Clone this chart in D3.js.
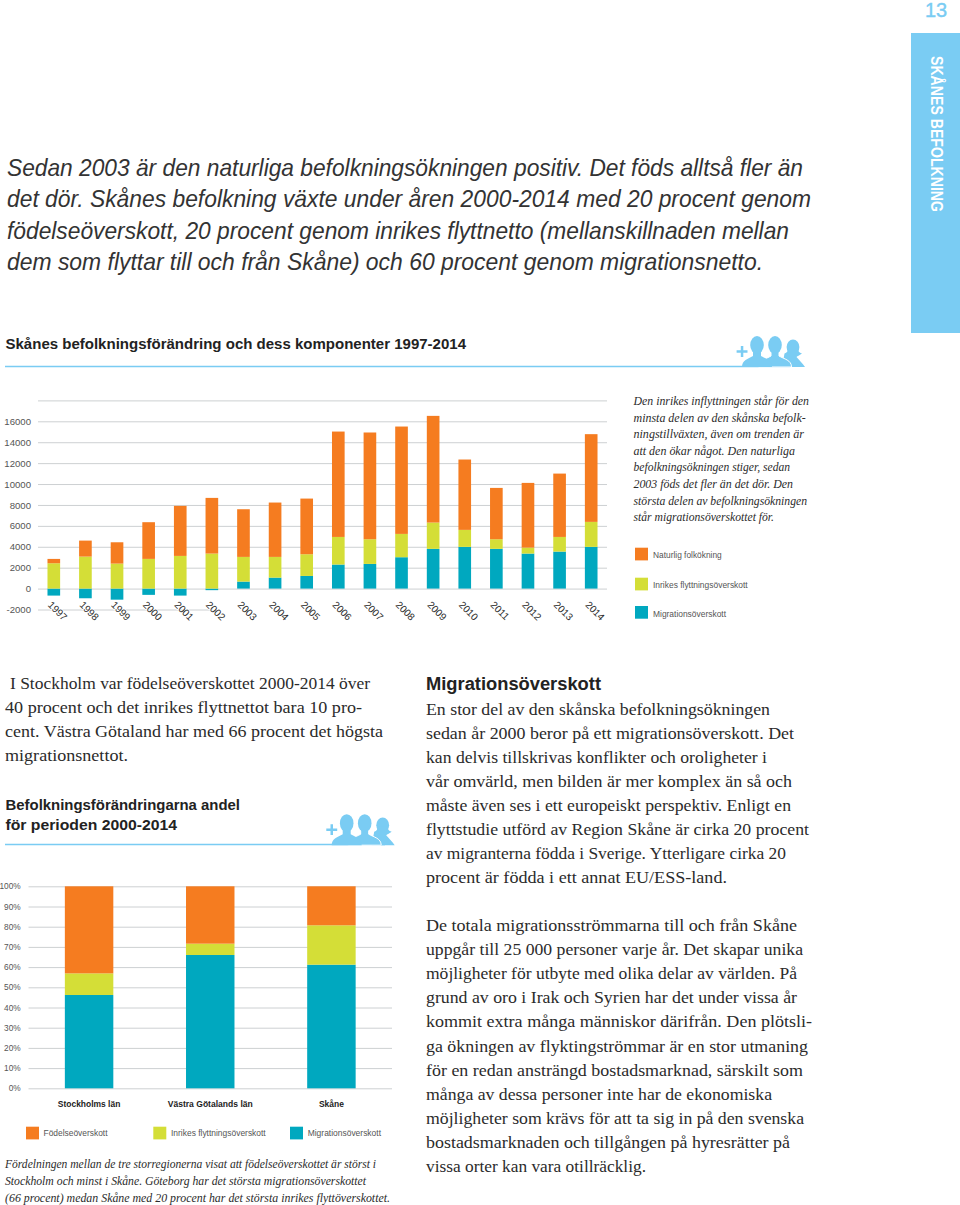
<!DOCTYPE html>
<html><head><meta charset="utf-8">
<script src="https://cdn.jsdelivr.net/npm/d3@7"></script>
<style>
html,body{margin:0;padding:0;background:#fff}
svg{display:block}
text{fill:#2b2b2b}
.sans{font-family:"Liberation Sans",sans-serif}
.serif{font-family:"Liberation Serif",serif}
</style></head><body>
<svg id="page" width="960" height="1205"></svg>
<script>
// ---------- chart data ----------
const years = ["1997","1998","1999","2000","2001","2002","2003","2004","2005","2006","2007","2008","2009","2010","2011","2012","2013","2014"];
const migrationNet = [-670,-925,-1060,-600,-670,-150,670,1050,1210,2300,2360,3000,3800,3990,3800,3350,3540,3990];
const domesticNet  = [2424,3060,2390,2840,3125,3350,2360,1980,2075,2640,2360,2230,2515,1625,920,570,1400,2390];
const naturalGrowth= [415,1530,2040,3510,4785,5325,4560,5200,5325,10080,10210,10270,10205,6730,4910,6190,6060,8390];
const countTicks = [-2000,0,2000,4000,6000,8000,10000,12000,14000,16000,18000];

const regions = ["Stockholms län","Västra Götalands län","Skåne"];
const regionMigration = [46.2,66,61.2];
const regionDomestic  = [10.7,5.6,19.5];
const regionBirth     = [43.1,28.4,19.3];
const shareTicks = [0,10,20,30,40,50,60,70,80,90,100];

const legendOne = ["Naturlig folkökning","Inrikes flyttningsöverskott","Migrationsöverskott"];
const legendTwo = ["Födelseöverskott","Inrikes flyttningsöverskott","Migrationsöverskott"];

// ---------- copy ----------
const introLines = ["Sedan 2003 är den naturliga befolkningsökningen positiv. Det föds alltså fler än","det dör. Skånes befolkning växte under åren 2000-2014 med 20 procent genom","födelseöverskott, 20 procent genom inrikes flyttnetto (mellanskillnaden mellan","dem som flyttar till och från Skåne) och 60 procent genom migrationsnetto."];
const noteLines = ["Den inrikes inflyttningen står för den","minsta delen av den skånska befolk-","ningstillväxten, även om trenden är","att den ökar något. Den naturliga","befolkningsökningen stiger, sedan","2003 föds det fler än det dör. Den","största delen av befolkningsökningen","står migrationsöverskottet för."];
const stockholmLines = ["I Stockholm var födelseöverskottet 2000-2014 över","40 procent och det inrikes flyttnettot bara 10 pro-","cent. Västra Götaland har med 66 procent det högsta","migrationsnettot."];
const migLines = ["En stor del av den skånska befolkningsökningen","sedan år 2000 beror på ett migrationsöverskott. Det","kan delvis tillskrivas konflikter och oroligheter i","vår omvärld, men bilden är mer komplex än så och","måste även ses i ett europeiskt perspektiv. Enligt en","flyttstudie utförd av Region Skåne är cirka 20 procent","av migranterna födda i Sverige. Ytterligare cirka 20","procent är födda i ett annat EU/ESS-land."];
const flowLines = ["De totala migrationsströmmarna till och från Skåne","uppgår till 25 000 personer varje år. Det skapar unika","möjligheter för utbyte med olika delar av världen. På","grund av oro i Irak och Syrien har det under vissa år","kommit extra många människor därifrån. Den plötsli-","ga ökningen av flyktingströmmar är en stor utmaning","för en redan ansträngd bostadsmarknad, särskilt som","många av dessa personer inte har de ekonomiska","möjligheter som krävs för att ta sig in på den svenska","bostadsmarknaden och tillgången på hyresrätter på","vissa orter kan vara otillräcklig."];
const captionLines = ["Fördelningen mellan de tre storregionerna visat att födelseöverskottet är störst i","Stockholm och minst i Skåne. Göteborg har det största migrationsöverskottet","(66 procent) medan Skåne med 20 procent har det största inrikes flyttöverskottet."];

const C = {orange:"#f57c20", yellow:"#d4de37", teal:"#00a8bf", sky:"#7accf3", grid:"#cdd0d2", tick:"#555"};
const svg = d3.select("#page");

// one text line fitted between x and endX
function fit(sel, str, x, y, endX, cls, size, opts={}){
  const t = sel.append("text").attr("class",cls).attr("x",x).attr("y",y)
    .attr("font-size",size).text(str)
    .attr("textLength",endX-x).attr("lengthAdjust","spacingAndGlyphs");
  if(opts.italic) t.attr("font-style","italic");
  if(opts.bold) t.attr("font-weight","bold");
  if(opts.fill) t.style("fill",opts.fill);
  return t;
}
function block(lines, x, y0, lead, ends, cls, size, opts={}){
  lines.forEach((s,i)=>fit(svg,s,(opts.xs&&opts.xs[i])||x,y0+i*lead,ends[i],cls,size,opts));
}

// ---------- page furniture ----------
svg.append("text").attr("class","sans").attr("x",936).attr("y",17).attr("text-anchor","middle")
  .attr("font-size",20).style("fill",C.sky).style("stroke",C.sky).style("stroke-width",0.4).text("13");
svg.append("rect").attr("x",911).attr("y",33).attr("width",49).attr("height",300).attr("fill",C.sky);
svg.append("text").attr("class","sans").attr("transform","translate(930.5,56) rotate(90)")
  .attr("font-size",17).attr("font-weight","bold").style("fill","#fff")
  .attr("textLength",156).attr("lengthAdjust","spacingAndGlyphs").text("SKÅNES BEFOLKNING");

block(introLines,7,176,31.3,[803,811,789,763],"sans",24,{italic:true,fill:"#333"});

fit(svg,"Skånes befolkningsförändring och dess komponenter 1997-2014",5.5,349,466,"sans",15,{bold:true,fill:"#222"});
svg.append("line").attr("x1",5).attr("x2",790).attr("y1",366.5).attr("y2",366.5).attr("stroke",C.sky).attr("stroke-width",1.6);
fit(svg,"Befolkningsförändringarna andel",5.5,810,240,"sans",15,{bold:true,fill:"#222"});
fit(svg,"för perioden 2000-2014",5.5,829.5,177,"sans",15,{bold:true,fill:"#222"});
svg.append("line").attr("x1",5).attr("x2",385).attr("y1",844.5).attr("y2",844.5).attr("stroke",C.sky).attr("stroke-width",1.6);

function people(x,y){ // x,y = left end of the icon's base
  const g = svg.append("g").attr("transform",`translate(${x},${y})`).attr("fill",C.sky);
  g.append("path").attr("d","M-1.2,-21v4.2h-4.2v2.5h4.2v4.2h2.5v-4.2h4.2v-2.5h-4.2v-4.2z");
  // woman, at the back
  g.append("ellipse").attr("cx",51).attr("cy",-20).attr("rx",6.4).attr("ry",7.6);
  g.append("path").attr("d","M42.5,-13.5 C45,-14 46,-16 46,-19 L56,-19 C56,-16 57,-14 60,-13.5 C57,-11.5 55.5,-11 54.5,-10 C57,-7 60.5,-4 63,0 L40,0 Z");
  const man=(cx,w,outline)=>{
    g.append("path")
      .attr("d",`M${cx-w},0 C${cx-w},-7 ${cx-9},-8 ${cx-4},-11 L${cx-4},-17 L${cx+4},-17 L${cx+4},-11 C${cx+9},-8 ${cx+w},-7 ${cx+w},0 Z`)
      .attr("stroke",outline?"#fff":"none").attr("stroke-width",1);
    g.append("ellipse").attr("cx",cx).attr("cy",-22).attr("rx",6.8).attr("ry",9);
  };
  man(33,16.5,true);
  man(15,15,false);
}
people(742,367);
people(331.7,845.2);

// ---------- chart 1: yearly components ----------
const x1 = d3.scaleBand().domain(years).range([38,607]).paddingInner(0.6).paddingOuter(0.3);
const y1 = d3.scaleLinear().domain([-2000,18000]).range([609.5,400.4]);
const rows1 = years.map((yr,i)=>({yr,mig:migrationNet[i],dom:domesticNet[i],nat:naturalGrowth[i]}));
const stack1 = d3.stack().keys(["mig","dom","nat"]).offset(d3.stackOffsetDiverging)(rows1);
const colours = {mig:C.teal,dom:C.yellow,nat:C.orange};

const axis1 = svg.append("g").attr("transform","translate(38,0)")
  .call(d3.axisLeft(y1).tickValues(countTicks).tickSize(-569).tickPadding(7)
        .tickFormat(d=>d===18000?"":String(d)));
axis1.select(".domain").remove();
axis1.selectAll(".tick line").attr("stroke",C.grid).attr("stroke-width",1);
axis1.selectAll(".tick").filter(d=>d===-2000).select("line").attr("x2",175);
axis1.selectAll(".tick text").attr("class","sans").attr("font-size",9.6).style("fill",C.tick);

svg.append("g").selectAll("g").data(stack1).join("g").attr("fill",d=>colours[d.key])
  .selectAll("rect").data(d=>d).join("rect")
  .attr("x",d=>x1(d.data.yr)).attr("width",x1.bandwidth())
  .attr("y",d=>y1(Math.max(d[0],d[1]))).attr("height",d=>Math.abs(y1(d[0])-y1(d[1])));

svg.append("g").selectAll("text").data(years).join("text").attr("class","sans")
  .attr("font-size",10).style("fill","#2b2b2b").style("paint-order","stroke").style("stroke","#fff").style("stroke-width",1.5)
  .attr("transform",d=>`translate(${x1(d)+x1.bandwidth()/2-6.5},${605.5}) rotate(45)`)
  .text(d=>d);

block(noteLines,633.5,405,16.6,[809,805.7,804,795,790,793,807,774],"serif",13,{italic:true});

[C.orange,C.yellow,C.teal].forEach((c,i)=>{
  const top=[547.7,577.7,606][i];
  svg.append("rect").attr("x",635).attr("y",top).attr("width",13).attr("height",12.7).attr("fill",c);
  fit(svg,legendOne[i],653,[558,588,617][i],[721.7,747.7,726][i],"sans",9.5,{fill:"#555"});
});

// ---------- body copy ----------
block(stockholmLines,5,689,24,[370,362,383,128],"serif",17,{xs:[10,0,0,0]});
fit(svg,"Migrationsöverskott",426,690,601,"sans",18,{bold:true,fill:"#222"});
block(migLines,426,715,24,[770,794,767,792,791,809,786,727],"serif",17);
block(flowLines,426,931,24.1,[797,803,797,797,812,808,803,772,804,790,646],"serif",17);

// ---------- chart 2: regional shares ----------
const x2 = d3.scaleBand().domain(regions).range([28.5,392]).paddingInner(0.6).paddingOuter(0.3);
const y2 = d3.scaleLinear().domain([0,100]).range([1088.3,886.3]);
const rows2 = regions.map((r,i)=>({r,mig:regionMigration[i],dom:regionDomestic[i],nat:regionBirth[i]}));
const stack2 = d3.stack().keys(["mig","dom","nat"])(rows2);

const axis2 = svg.append("g").attr("transform","translate(28.5,0)")
  .call(d3.axisLeft(y2).tickValues(shareTicks).tickSize(-363.5).tickPadding(7.8).tickFormat(d=>d+"%"));
axis2.select(".domain").remove();
axis2.selectAll(".tick line").attr("stroke",C.grid).attr("stroke-width",1);
axis2.selectAll(".tick text").attr("class","sans").attr("font-size",8.3).style("fill",C.tick);

svg.append("g").selectAll("g").data(stack2).join("g").attr("fill",d=>colours[d.key])
  .selectAll("rect").data(d=>d).join("rect")
  .attr("x",d=>x2(d.data.r)).attr("width",x2.bandwidth())
  .attr("y",d=>y2(d[1])).attr("height",d=>y2(d[0])-y2(d[1]));

const catWidths = [62.5,85,25];
svg.append("g").call(d3.axisBottom(x2).tickSize(0))
  .attr("transform","translate(0,1107)").call(g=>{
    g.select(".domain").remove();
    g.selectAll("text").attr("y",0).attr("dy",0).attr("class","sans")
      .attr("font-size",9.4).attr("font-weight","bold").style("fill","#222")
      .attr("textLength",(d,i)=>catWidths[i]).attr("lengthAdjust","spacingAndGlyphs");
  });

[C.orange,C.yellow,C.teal].forEach((c,i)=>{
  const sx=[26,153.3,290][i];
  svg.append("rect").attr("x",sx).attr("y",1126.7).attr("width",13).attr("height",12.7).attr("fill",c);
  fit(svg,legendTwo[i],[43.5,171,307.7][i],1136,[107.5,265.7,381][i],"sans",9.5,{fill:"#555"});
});

block(captionLines,5,1168,16.8,[376,366,390],"serif",13,{italic:true});
</script>
</body></html>
